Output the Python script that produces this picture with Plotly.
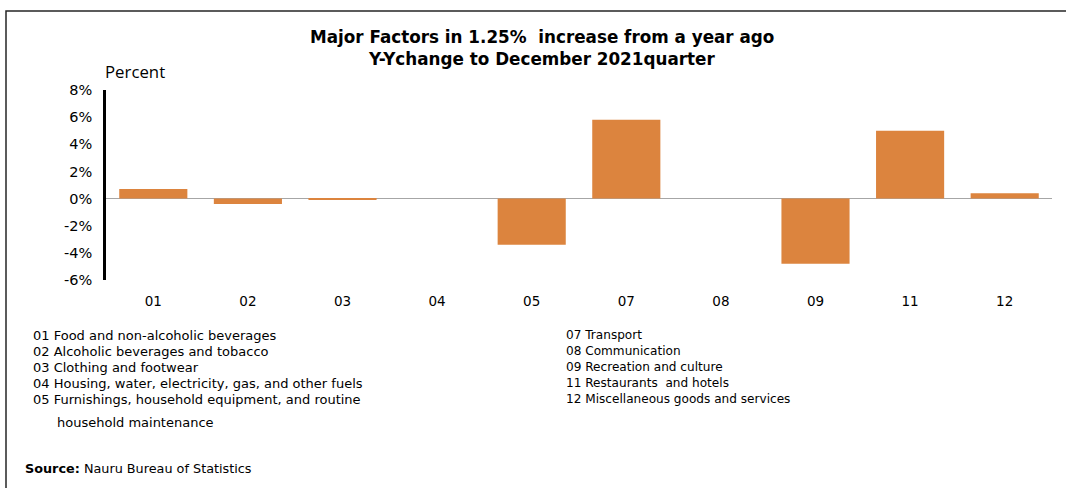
import plotly.graph_objects as go

# CPI groups and their year-on-year change (percent)
codes = ["01", "02", "03", "04", "05", "07", "08", "09", "11", "12"]
changes = [0.7, -0.4, -0.1, 0.0, -3.4, 5.8, 0.0, -4.8, 5.0, 0.4]

left_key = [
    "01 Food and non-alcoholic beverages",
    "02 Alcoholic beverages and tobacco",
    "03 Clothing and footwear",
    "04 Housing, water, electricity, gas, and other fuels",
    "05 Furnishings, household equipment, and routine",
]
left_key_cont = "household maintenance"
right_key = [
    "07 Transport",
    "08 Communication",
    "09 Recreation and culture",
    "11 Restaurants  and hotels",
    "12 Miscellaneous goods and services",
]

title_lines = [
    "Major Factors in 1.25%\u00a0 increase from a year ago",
    "Y-Ychange to December 2021quarter",
]
y_ticks = [-6, -4, -2, 0, 2, 4, 6, 8]
y_tick_text = [f"{v}%" for v in y_ticks]

W, H = 1066, 488
L, R, T, B = 106, 14, 90, 208
PW, PH = W - L - R, H - T - B


def px(x):
    return (x - L) / PW


def py(y):
    return (H - B - y) / PH


SANS = "DejaVu Sans, Verdana, sans-serif"
BAR = "#dc843e"

fig = go.Figure(
    go.Bar(
        x=codes,
        y=changes,
        marker=dict(color=BAR, line=dict(width=0)),
        width=0.72,
    )
)

annotations = []
for i, line in enumerate(title_lines):
    annotations.append(dict(
        text=f"<b>{line}</b>", x=px(541.5), y=py(37 + 22 * i),
        xref="paper", yref="paper", xanchor="center", yanchor="middle",
        showarrow=False, font=dict(family=SANS, size=16.8, color="#000"),
    ))

annotations.append(dict(
    text="Percent", x=px(102.5), y=py(72), xref="paper", yref="paper",
    xanchor="left", yanchor="middle", showarrow=False,
    font=dict(family="Open Sans, sans-serif", size=16.8, color="#000"),
))

for i, line in enumerate(left_key):
    annotations.append(dict(
        text=line, x=px(31), y=py(335 + 16 * i), xref="paper", yref="paper",
        xanchor="left", yanchor="middle", showarrow=False,
        font=dict(family=SANS, size=13, color="#000"),
    ))
annotations.append(dict(
    text=left_key_cont, x=px(55), y=py(422), xref="paper", yref="paper",
    xanchor="left", yanchor="middle", showarrow=False,
    font=dict(family=SANS, size=13, color="#000"),
))
for i, line in enumerate(right_key):
    annotations.append(dict(
        text=line, x=px(564), y=py(335 + 16 * i), xref="paper", yref="paper",
        xanchor="left", yanchor="middle", showarrow=False,
        font=dict(family=SANS, size=12.1, color="#000"),
    ))

annotations.append(dict(
    text="<b>Source:</b> Nauru Bureau of Statistics", x=px(23), y=py(468),
    xref="paper", yref="paper", xanchor="left", yanchor="middle",
    showarrow=False, font=dict(family=SANS, size=12.8, color="#000"),
))

shapes = [dict(
    type="rect", xref="paper", yref="paper",
    x0=px(6), x1=px(1080), y0=py(11), y1=py(500),
    line=dict(color="#262626", width=1.5), layer="below",
)]

fig.update_layout(
    width=W, height=H,
    margin=dict(l=L, r=R, t=T, b=B, pad=0),
    paper_bgcolor="white", plot_bgcolor="white",
    showlegend=False,
    bargap=0.28,
    annotations=annotations,
    shapes=shapes,
    xaxis=dict(
        type="category", showgrid=False, showline=False, zeroline=False,
        ticks="", tickfont=dict(family=SANS, size=13.5, color="#000"),
        ticklabelstandoff=11,
    ),
    yaxis=dict(
        range=[-6, 8], tickmode="array", tickvals=y_ticks, ticktext=y_tick_text,
        showgrid=False, showline=True, linecolor="#000", linewidth=2.5,
        zeroline=True, zerolinecolor="#a6a6a6", zerolinewidth=1.3,
        ticks="", tickfont=dict(family=SANS, size=14.5, color="#000"),
        ticklabelstandoff=8,
    ),
)

fig.write_html("out.html")
